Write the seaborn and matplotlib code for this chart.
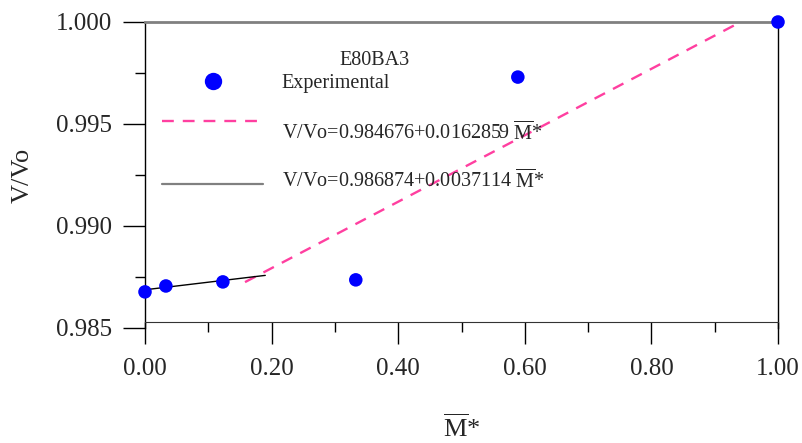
import numpy as np
import matplotlib
matplotlib.use("Agg")
import matplotlib.pyplot as plt
from matplotlib.ticker import MultipleLocator, FormatStrFormatter
import seaborn as sns

# experimental points (M* bar, V/Vo)
m_exp = [0.0, 0.033, 0.123, 0.333, 0.589, 1.0]
v_exp = [0.98677, 0.98706, 0.98726, 0.98736, 0.99730, 1.0]

# fitted lines: V/Vo = a + b * M*
fit_hi_a, fit_hi_b = 0.984676, 0.0162859
fit_lo_a, fit_lo_b = 0.986874, 0.0037114
fit_hi_x = [0.158, 0.941]
fit_lo_x = [0.0, 0.19]

label_series = "E80BA3"
label_exp = "Experimental"
label_hi = r"V/Vo=0.984676+0.0162859 $\overline{\mathrm{M}}$*"
label_lo = r"V/Vo=0.986874+0.0037114 $\overline{\mathrm{M}}$*"

sns.set_style("ticks")
plt.rcParams["font.family"] = ["Liberation Serif", "DejaVu Serif"]
plt.rcParams["mathtext.fontset"] = "custom"
plt.rcParams["mathtext.rm"] = "Liberation Serif"
plt.rcParams["mathtext.it"] = "Liberation Serif:italic"

PINK = "#ff3fa0"
BLUE = "#0000ff"

fig = plt.figure(figsize=(8.02, 4.43), dpi=100)
ax = fig.add_axes([145 / 802, 115 / 443, 633 / 802, 306 / 443])

x_hi = np.array(fit_hi_x)
x_lo = np.array(fit_lo_x)
sns.lineplot(x=x_hi, y=fit_hi_a + fit_hi_b * x_hi, ax=ax, color=PINK,
             linewidth=1.7, linestyle=(0, (5, 3.8)), zorder=3)
sns.lineplot(x=x_lo, y=fit_lo_a + fit_lo_b * x_lo, ax=ax, color="black",
             linewidth=1.0, zorder=3)
sns.scatterplot(x=m_exp, y=v_exp, ax=ax, color=BLUE, s=95, edgecolor="none",
                clip_on=False, zorder=5)

ax.set_xlim(0, 1.0)
ax.set_ylim(0.985, 1.0)
ax.xaxis.set_major_locator(MultipleLocator(0.2))
ax.xaxis.set_minor_locator(MultipleLocator(0.1))
ax.yaxis.set_major_locator(MultipleLocator(0.005))
ax.yaxis.set_minor_locator(MultipleLocator(0.0025))
ax.xaxis.set_major_formatter(FormatStrFormatter("%.2f"))
ax.yaxis.set_major_formatter(FormatStrFormatter("%.3f"))
ax.tick_params(which="major", direction="out", length=15.5, width=1,
               color="black", labelsize=18)
ax.tick_params(which="minor", direction="out", length=7.5, width=1,
               color="black")
ax.tick_params(axis="x", which="major", pad=10)
ax.tick_params(axis="y", which="major", pad=8)

ax.spines["bottom"].set_position(("data", 0.98529))
ax.spines["bottom"].set_color("#333333")
ax.spines["top"].set_color("#808080")
ax.spines["top"].set_linewidth(2)
for side in ["left", "right"]:
    ax.spines[side].set_color("black")
    ax.spines[side].set_linewidth(1)

ax.set_ylabel("V/Vo", fontsize=19, labelpad=16)
ax.set_xlabel(r"$\overline{\mathrm{M}}$*", fontsize=19, labelpad=25)

# hand-drawn legend inside the axes
ax.text(0.363, 0.859, label_series, transform=ax.transAxes, fontsize=14.5,
        ha="center", va="baseline")
ax.plot([0.107], [0.807], "o", color=BLUE, markersize=12.5,
        markeredgewidth=0, transform=ax.transAxes)
ax.text(0.216, 0.784, label_exp, transform=ax.transAxes, fontsize=14.5,
        ha="left", va="baseline")
ax.plot([0.027, 0.179], [0.676, 0.676], color=PINK, linewidth=1.7,
        linestyle=(0, (5, 3.8)), transform=ax.transAxes)
ax.text(0.216, 0.614, label_hi, transform=ax.transAxes, fontsize=14.5,
        ha="left", va="baseline")
ax.plot([0.027, 0.186], [0.471, 0.471], color="#808080", linewidth=1.6,
        transform=ax.transAxes)
ax.text(0.216, 0.4575, label_lo, transform=ax.transAxes, fontsize=14.5,
        ha="left", va="baseline")

fig.savefig("out.png", dpi=100)
